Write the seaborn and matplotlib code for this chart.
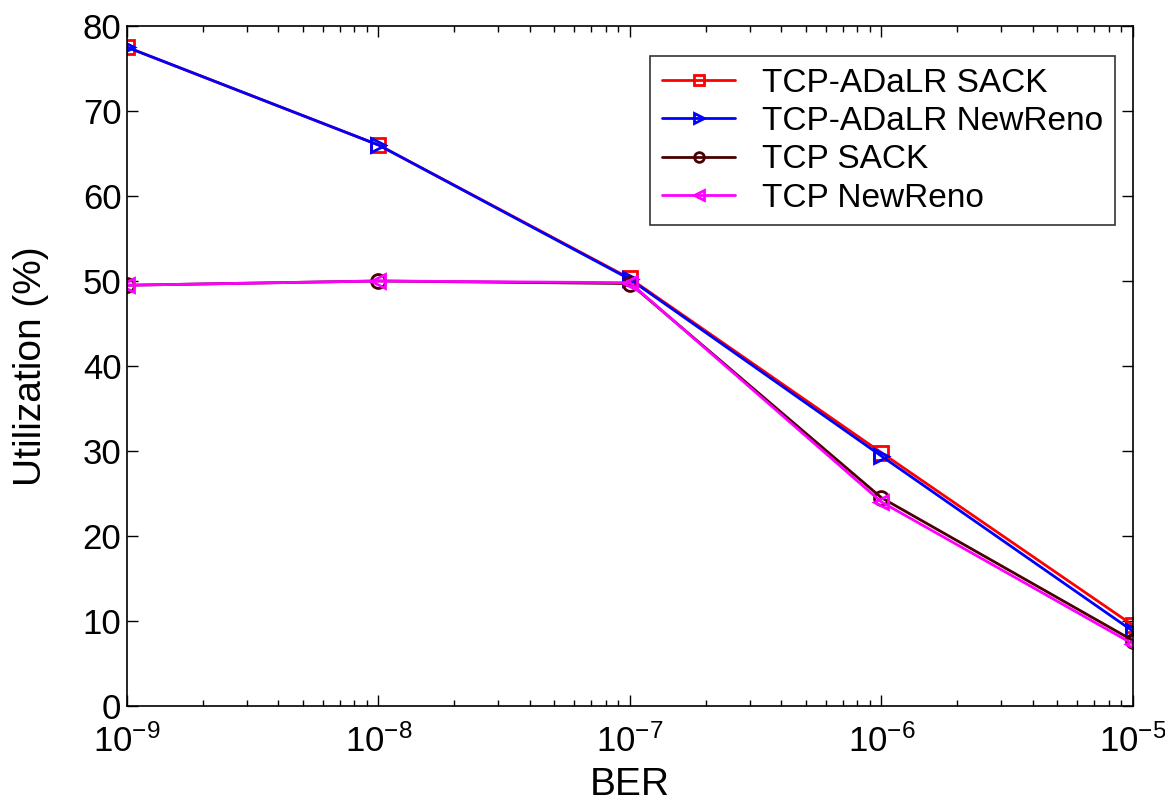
import pandas as pd
import numpy as np
import matplotlib.pyplot as plt
import matplotlib.ticker as mticker
import seaborn as sns

# values
ber = [1e-9, 1e-8, 1e-7, 1e-6, 1e-5]
adalr_sack = [77.5, 66.0, 50.3, 29.8, 9.5]
adalr_newreno = [77.5, 66.0, 50.2, 29.4, 8.8]
tcp_sack = [49.5, 50.0, 49.7, 24.5, 7.7]
tcp_newreno = [49.5, 50.0, 49.8, 24.0, 7.3]

series_names = ['TCP-ADaLR SACK', 'TCP-ADaLR NewReno', 'TCP SACK', 'TCP NewReno']
colors = ['#ff0000', '#0000ff', '#4a0000', '#ff00ff']
markers = ['s', '>', 'o', '<']

df = pd.concat([
    pd.DataFrame({'BER': ber, 'Utilization': vals, 'Scheme': name})
    for name, vals in zip(series_names, [adalr_sack, adalr_newreno, tcp_sack, tcp_newreno])
])

sns.set_style('ticks')
plt.rcParams['font.family'] = ['Liberation Sans', 'DejaVu Sans']
plt.rcParams['mathtext.fontset'] = 'custom'
plt.rcParams['mathtext.rm'] = 'Liberation Sans'
for key in ['text.color', 'axes.labelcolor', 'xtick.color', 'ytick.color', 'axes.edgecolor']:
    plt.rcParams[key] = 'black'

fig, ax = plt.subplots(figsize=(11.65, 8.02), dpi=100)
sns.lineplot(data=df, x='BER', y='Utilization', hue='Scheme', style='Scheme',
             hue_order=series_names, style_order=series_names,
             palette=dict(zip(series_names, colors)),
             markers=dict(zip(series_names, markers)),
             dashes=False, linewidth=2, markersize=10,
             markerfacecolor='none', markeredgewidth=2, ax=ax)

# hollow markers with coloured edges
for line, c in zip(ax.get_lines(), colors):
    line.set_markeredgecolor(c)
    line.set_markerfacecolor('none')

ax.set_xscale('log')
ax.set_xlim(1e-9, 1e-5)
ax.set_ylim(0, 80)
ax.set_yticks(np.arange(0, 81, 10))
ax.xaxis.set_major_formatter(mticker.FuncFormatter(
    lambda v, p: r'$\mathregular{10^{%d}}$' % int(round(np.log10(v)))))
ax.tick_params(which='both', direction='in', top=True, right=True, labelsize=25)
ax.tick_params(which='major', length=8, width=1)
ax.tick_params(which='minor', length=4, width=1)
ax.tick_params(axis='x', which='major', pad=13)
ax.tick_params(axis='y', which='major', pad=4)
for s in ax.spines.values():
    s.set_linewidth(1.2)
ax.set_xlabel('BER', fontsize=28, labelpad=6)
ax.set_ylabel('Utilization (%)', fontsize=28, labelpad=24)

handles, labels = ax.get_legend_handles_labels()
for h, c in zip(handles, colors):
    h.set_markeredgecolor(c)
    h.set_markerfacecolor('none')
    h.set_markersize(7)
leg = ax.legend(handles, labels, loc='upper right', bbox_to_anchor=(0.982, 0.956),
                fontsize=24, frameon=True, fancybox=False, edgecolor='black',
                handlelength=2.2, handletextpad=0.8, borderpad=0.35,
                labelspacing=0.22, borderaxespad=0)
leg.get_frame().set_linewidth(1.2)

fig.subplots_adjust(left=0.109, right=0.9725, top=0.9676, bottom=0.1197)
fig.savefig('out.png', dpi=100)
